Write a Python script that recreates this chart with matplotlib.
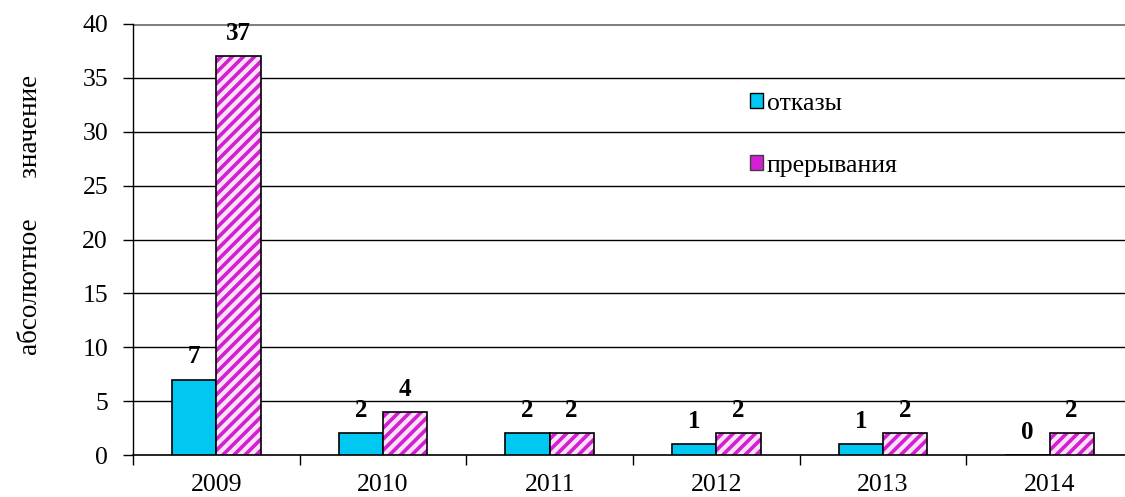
import numpy as np
import matplotlib
matplotlib.use('Agg')
from matplotlib import pyplot as plt
from matplotlib.patches import Patch

plt.rcParams['font.family'] = ['Liberation Serif', 'DejaVu Serif']
plt.rcParams['hatch.linewidth'] = 2.6

years = ['2009', '2010', '2011', '2012', '2013', '2014']
otkazy = [7, 2, 2, 1, 1, 0]
preryvaniya = [37, 4, 2, 2, 2, 2]

CYAN = '#00c8f0'
PINK_BG = '#fbe2f7'
MAGENTA = '#d21fd2'

fig = plt.figure(figsize=(11.25, 4.97), dpi=100)
ax = fig.add_axes([133 / 1125, 1 - 455 / 497, 1000 / 1125, 431 / 497])

x = np.arange(len(years))
w = 0.265

ax.bar(x - w / 2, otkazy, w, color=CYAN, edgecolor='black', linewidth=1.2, zorder=3)
# hatched bars: stripes first, outline on top
ax.bar(x + w / 2, preryvaniya, w, color=PINK_BG, edgecolor=MAGENTA, hatch='///',
       linewidth=0, zorder=3)
ax.bar(x + w / 2, preryvaniya, w, fill=False, edgecolor='black', linewidth=1.2, zorder=4)

for i in range(len(years)):
    ax.text(x[i] - w / 2, otkazy[i] + 1.5, str(otkazy[i]), ha='center', va='baseline',
            fontsize=18, fontweight='bold')
    ax.text(x[i] + w / 2, preryvaniya[i] + 1.5, str(preryvaniya[i]), ha='center', va='baseline',
            fontsize=18, fontweight='bold')

ax.set_xlim(-0.5, 5.5)
ax.set_ylim(0, 40)
ax.set_yticks(range(0, 41, 5))
ax.set_xticks(x)
ax.set_xticklabels(years)
ax.set_xticks(np.arange(-0.5, 6, 1), minor=True)
ax.tick_params(axis='x', which='major', length=0, pad=14, labelsize=18.5)
ax.tick_params(axis='x', which='minor', length=7, width=1, direction='out')
ax.tick_params(axis='y', length=7, width=1, labelsize=18.5, pad=11)

for v in range(5, 40, 5):
    ax.axhline(v, color='black', linewidth=1, zorder=1)
ax.axhline(40, color='#808080', linewidth=2.2, zorder=1)

for s in ['top', 'right']:
    ax.spines[s].set_visible(False)
ax.spines['left'].set_linewidth(1)
ax.spines['bottom'].set_linewidth(1.2)

fig.text(31 / 1125, 1 - 215 / 497, 'абсолютное      значение', rotation=90,
         ha='center', va='center', fontsize=19.5)

handles = [Patch(facecolor=CYAN, edgecolor='black', linewidth=1),
           Patch(facecolor=MAGENTA, edgecolor='#404040', linewidth=1)]
leg = ax.legend(handles, ['отказы', 'прерывания'], loc='upper left',
                bbox_to_anchor=(737 / 1125, 1 - 80 / 497), bbox_transform=fig.transFigure,
                frameon=False, fontsize=18.5, handlelength=0.5, handleheight=0.5,
                handletextpad=0.15, labelspacing=1.55, borderpad=0)

fig.savefig('out.png', dpi=100)
